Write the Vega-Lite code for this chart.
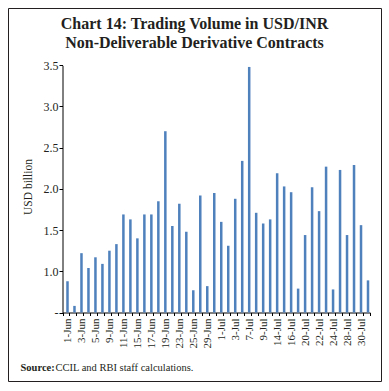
{
  "$schema": "https://vega.github.io/schema/vega-lite/v6.json",
  "width": 373,
  "height": 373,
  "autosize": {"type": "none"},
  "padding": {"left": 8, "top": 8, "right": 8, "bottom": 10},
  "background": "white",
  "title": {
    "text": ["Chart 14: Trading Volume in USD/INR", "Non-Deliverable Derivative Contracts"],
    "font": "Liberation Serif",
    "fontSize": 16,
    "fontWeight": "bold",
    "lineHeight": 19,
    "color": "#231f20",
    "anchor": "middle",
    "frame": "group",
    "offset": -43
  },
  "config": {
    "view": {"stroke": "#231f20", "strokeWidth": 1},
    "axis": {
      "domainColor": "#000000",
      "tickColor": "#000000",
      "labelColor": "#231f20",
      "titleColor": "#231f20",
      "labelFont": "Liberation Serif",
      "titleFont": "Liberation Serif",
      "titleFontWeight": "normal",
      "grid": false
    }
  },
  "data": {
    "values": [
      {"date": "1-Jun", "volume": 0.88},
      {"date": "2-Jun", "volume": 0.58},
      {"date": "3-Jun", "volume": 1.22},
      {"date": "4-Jun", "volume": 1.04},
      {"date": "5-Jun", "volume": 1.17},
      {"date": "8-Jun", "volume": 1.09},
      {"date": "9-Jun", "volume": 1.25},
      {"date": "10-Jun", "volume": 1.33},
      {"date": "11-Jun", "volume": 1.69},
      {"date": "12-Jun", "volume": 1.63},
      {"date": "15-Jun", "volume": 1.40},
      {"date": "16-Jun", "volume": 1.69},
      {"date": "17-Jun", "volume": 1.69},
      {"date": "18-Jun", "volume": 1.85},
      {"date": "19-Jun", "volume": 2.70},
      {"date": "22-Jun", "volume": 1.55},
      {"date": "23-Jun", "volume": 1.82},
      {"date": "24-Jun", "volume": 1.48},
      {"date": "25-Jun", "volume": 0.77},
      {"date": "26-Jun", "volume": 1.92},
      {"date": "29-Jun", "volume": 0.82},
      {"date": "30-Jun", "volume": 1.95},
      {"date": "1-Jul", "volume": 1.60},
      {"date": "2-Jul", "volume": 1.31},
      {"date": "3-Jul", "volume": 1.88},
      {"date": "6-Jul", "volume": 2.34},
      {"date": "7-Jul", "volume": 3.48},
      {"date": "8-Jul", "volume": 1.71},
      {"date": "9-Jul", "volume": 1.58},
      {"date": "10-Jul", "volume": 1.63},
      {"date": "14-Jul", "volume": 2.19},
      {"date": "15-Jul", "volume": 2.03},
      {"date": "16-Jul", "volume": 1.96},
      {"date": "17-Jul", "volume": 0.79},
      {"date": "20-Jul", "volume": 1.44},
      {"date": "21-Jul", "volume": 2.02},
      {"date": "22-Jul", "volume": 1.73},
      {"date": "23-Jul", "volume": 2.27},
      {"date": "24-Jul", "volume": 0.78},
      {"date": "27-Jul", "volume": 2.23},
      {"date": "28-Jul", "volume": 1.44},
      {"date": "29-Jul", "volume": 2.29},
      {"date": "30-Jul", "volume": 1.56},
      {"date": "31-Jul", "volume": 0.89}
    ]
  },
  "resolve": {"axis": {"y": "independent"}},
  "layer": [
    {
      "mark": {"type": "bar", "color": "#4F81BD", "width": {"band": 0.36}, "xOffset": 1.5},
      "encoding": {
        "x": {
          "field": "date",
          "type": "ordinal",
          "sort": null,
          "scale": {"range": [54.5, 362], "paddingInner": 0, "paddingOuter": 0},
          "axis": {
            "orient": "bottom",
            "offset": -68.5,
            "tickBand": "extent",
            "tickSize": 3,
            "labelAngle": -90,
            "labelFontSize": 11,
            "labelPadding": 2.5,
            "labelOffset": 1.5,
            "labelOverlap": false,
            "labelExpr": "indexof(['1-Jun','3-Jun','5-Jun','9-Jun','11-Jun','15-Jun','17-Jun','19-Jun','23-Jun','25-Jun','29-Jun','1-Jul','3-Jul','7-Jul','9-Jul','14-Jul','16-Jul','20-Jul','22-Jul','24-Jul','28-Jul','30-Jul'], datum.value) >= 0 ? datum.value : ''",
            "title": "CCIL and RBI staff calculations.",
            "titleFontSize": 10.5,
            "titleX": 47,
            "titleY": 57.5,
            "titleAlign": "left",
            "titleBaseline": "alphabetic",
            "titleAngle": 0
          }
        },
        "y": {
          "field": "volume",
          "type": "quantitative",
          "scale": {"domain": [0.5, 3.5], "range": [304.5, 57.3], "zero": false, "nice": false},
          "axis": {
            "orient": "left",
            "offset": -54.5,
            "values": [0.5, 1, 1.5, 2, 2.5, 3, 3.5],
            "labelExpr": "datum.value == 0.5 ? '-' : format(datum.value, '.1f')",
            "labelFontSize": 12,
            "tickSize": 3.5,
            "labelPadding": 1,
            "title": "USD billion",
            "titleFontSize": 11.5,
            "titleX": -34.2,
            "titleY": 178.5,
            "titleAngle": -90,
            "titleAlign": "center",
            "titleBaseline": "middle"
          }
        },
        "y2": {"datum": 0.5}
      }
    },
    {
      "mark": {"type": "bar", "opacity": 0, "width": {"band": 0.36}},
      "encoding": {
        "x": {"field": "date", "type": "ordinal", "sort": null},
        "y": {
          "field": "volume",
          "type": "quantitative",
          "axis": {
            "orient": "right",
            "offset": 0,
            "labels": false,
            "ticks": false,
            "domain": false,
            "title": "Source:",
            "titleFontWeight": "bold",
            "titleFontSize": 10.5,
            "titleX": -361,
            "titleY": 362,
            "titleAngle": 0,
            "titleAlign": "left",
            "titleBaseline": "alphabetic"
          }
        },
        "y2": {"datum": 0.5}
      }
    }
  ]
}
